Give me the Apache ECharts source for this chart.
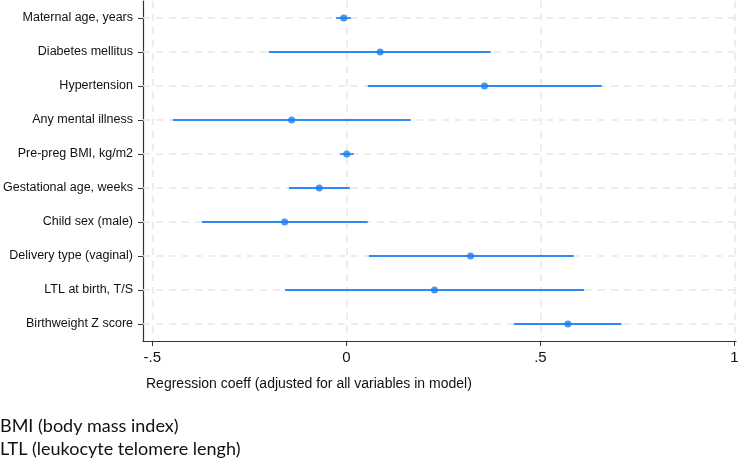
<!DOCTYPE html>
<html>
<head>
<meta charset="utf-8">
<script src="https://cdn.jsdelivr.net/npm/echarts@6/dist/echarts.min.js"></script>
<style>
  html, body { margin: 0; padding: 0; background: #fff; }
  #main { width: 744px; height: 460px; }
</style>
</head>
<body>
<div id="main"></div>
<script>
  // variables, top to bottom
  var names = ['Maternal age, years', 'Diabetes mellitus', 'Hypertension', 'Any mental illness',
    'Pre-preg BMI, kg/m2', 'Gestational age, weeks', 'Child sex (male)', 'Delivery type (vaginal)',
    'LTL at birth, T/S', 'Birthweight Z score'];
  var coef = [-0.007, 0.087, 0.356, -0.141, 0.001, -0.070, -0.159, 0.320, 0.227, 0.571];
  var lower = [-0.027, -0.200, 0.055, -0.447, -0.016, -0.148, -0.372, 0.058, -0.158, 0.432];
  var upper = [0.012, 0.372, 0.658, 0.166, 0.019, 0.009, 0.055, 0.586, 0.613, 0.709];
  var xTicks = [-0.5, 0, 0.5, 1];

  var blue = '#2f89f3';
  var chart = echarts.init(document.getElementById('main'));

  var ciData = names.map(function (n, i) { return [lower[i], upper[i], i]; });
  var ptData = names.map(function (n, i) { return [coef[i], n]; });

  var gridLines = [];
  xTicks.forEach(function (v) { gridLines.push({ xAxis: v }); });
  names.forEach(function (n) { gridLines.push({ yAxis: n }); });

  chart.setOption({
    animation: false,
    grid: { left: 143, right: 8, top: 1, bottom: 119, containLabel: false, outerBoundsMode: 'none' },
    xAxis: {
      type: 'value',
      min: -0.524,
      max: 1.004,
      axisLine: { show: true, onZero: false, lineStyle: { color: '#333', width: 1.2 } },
      axisTick: { show: true, customValues: xTicks, length: 5, lineStyle: { color: '#333' } },
      axisLabel: {
        customValues: xTicks,
        margin: 9,
        color: '#111',
        fontSize: 15,
        fontFamily: 'Liberation Sans',
        formatter: function (v) { return String(v).replace('0.', '.'); }
      },
      splitLine: { show: false }
    },
    yAxis: {
      type: 'category',
      data: names,
      inverse: true,
      axisLine: { show: true, onZero: false, lineStyle: { color: '#333', width: 1.2 } },
      axisTick: { show: true, alignWithLabel: true, length: 5, lineStyle: { color: '#333' } },
      axisLabel: { margin: 10, color: '#111', fontSize: 12.5, fontFamily: 'Liberation Sans' },
      splitLine: { show: false }
    },
    series: [
      {
        type: 'line',
        data: [],
        z: 1,
        markLine: {
          silent: true,
          z: 1,
          symbol: 'none',
          label: { show: false },
          lineStyle: { color: '#e8e8e8', type: [7, 6], width: 1.5 },
          data: gridLines
        }
      },
      {
        type: 'custom',
        z: 3,
        data: ciData,
        encode: { x: [0, 1], y: 2 },
        renderItem: function (params, api) {
          var a = api.coord([api.value(0), api.value(2)]);
          var b = api.coord([api.value(1), api.value(2)]);
          return {
            type: 'line',
            shape: { x1: a[0], y1: a[1], x2: b[0], y2: b[1] },
            style: { stroke: blue, lineWidth: 1.8 }
          };
        }
      },
      {
        type: 'scatter',
        z: 4,
        data: ptData,
        symbol: 'circle',
        symbolSize: 7,
        itemStyle: { color: '#1a7cf5' }
      }
    ],
    graphic: [
      {
        type: 'text', left: 146, top: 377,
        style: { text: 'Regression coeff (adjusted for all variables in model)', fill: '#111', fontSize: 14, fontFamily: 'Liberation Sans' }
      },
      {
        type: 'text', left: 0, top: 417,
        style: { text: 'BMI (body mass index)', fill: '#111', fontSize: 18, fontFamily: 'Lato' }
      },
      {
        type: 'text', left: 0, top: 440,
        style: { text: 'LTL (leukocyte telomere lengh)', fill: '#111', fontSize: 18, fontFamily: 'Lato' }
      }
    ]
  });
</script>
</body>
</html>
